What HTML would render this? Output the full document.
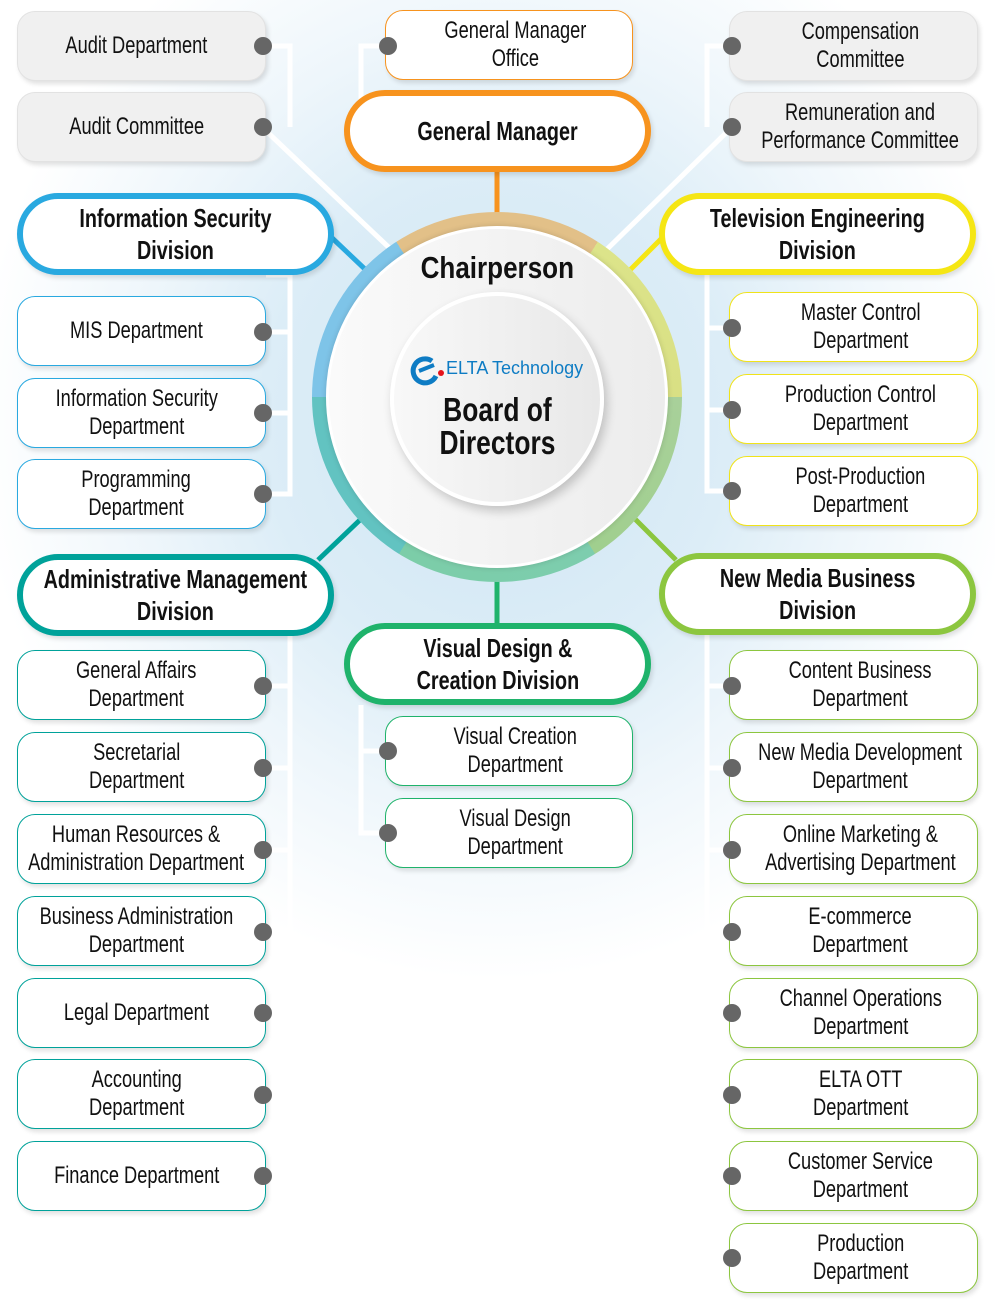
<!DOCTYPE html>
<html><head><meta charset="utf-8"><style>
*{margin:0;padding:0;box-sizing:border-box}
body{width:995px;height:1310px;position:relative;overflow:hidden;background:#fff;font-family:"Liberation Sans",sans-serif;}
#bg{position:absolute;left:0;top:0;width:995px;height:1310px;background:radial-gradient(ellipse 520px 560px at 497px 420px,#cfe5f3 0%,#dcedf7 45%,#eef6fb 70%,#ffffff 100%);}
.b{position:absolute;background:#fff;border-radius:18px;display:flex;align-items:center;justify-content:center;text-align:center;font-size:24px;line-height:28px;color:#111;box-shadow:2px 3px 5px rgba(0,0,0,.12);white-space:nowrap}
.b span{display:inline-block;transform:scaleX(.76)}
.g{background:#f0f0f0;border:1px solid #e2e2e2}
.L{left:17px;width:249px;height:70px;padding-right:10px}
.R{left:729px;width:249px;height:70px;padding-left:14px}
.C{left:385px;width:248px;height:70px;padding-left:12px}
.d{position:absolute;font-weight:bold;font-size:26px;line-height:32px;border-radius:42px;height:82px;background:#fff;border:6px solid;display:flex;align-items:center;justify-content:center;text-align:center;color:#111;box-shadow:2px 3px 5px rgba(0,0,0,.12);white-space:nowrap}
.d span{display:inline-block;transform:scaleX(.76)}
.dot{position:absolute;width:18px;height:18px;border-radius:50%;background:#666}
</style></head><body>
<div id="bg"></div>
<svg width="995" height="1310" style="position:absolute;left:0;top:0">
<g stroke="#fff" stroke-width="5" fill="none">
<polyline points="262,46 290,46 290,127"/>
<polyline points="266,275 290,275 290,494 262,494"/>
<line x1="262" y1="332" x2="290" y2="332"/><line x1="262" y1="413" x2="290" y2="413"/>
<polyline points="290,636 290,1176 262,1176"/>
<line x1="262" y1="686" x2="290" y2="686"/><line x1="262" y1="768" x2="290" y2="768"/><line x1="262" y1="850" x2="290" y2="850"/><line x1="262" y1="932" x2="290" y2="932"/><line x1="262" y1="1013" x2="290" y2="1013"/><line x1="262" y1="1095" x2="290" y2="1095"/>
<polyline points="388,46 361,46 361,100"/>
<polyline points="361,705 361,833 388,833"/><line x1="361" y1="751" x2="388" y2="751"/>
<polyline points="732,46 707,46 707,127"/>
<polyline points="707,275 707,491 732,491"/><line x1="707" y1="328" x2="732" y2="328"/><line x1="707" y1="410" x2="732" y2="410"/>
<polyline points="707,635 707,1258 732,1258"/>
<line x1="707" y1="686" x2="732" y2="686"/><line x1="707" y1="768" x2="732" y2="768"/><line x1="707" y1="850" x2="732" y2="850"/><line x1="707" y1="932" x2="732" y2="932"/><line x1="707" y1="1013" x2="732" y2="1013"/><line x1="707" y1="1095" x2="732" y2="1095"/><line x1="707" y1="1176" x2="732" y2="1176"/>
<line x1="262" y1="127" x2="400" y2="258"/><line x1="732" y1="127" x2="598" y2="258"/>
</g>
<g stroke-width="5">
<line x1="497" y1="170" x2="497" y2="215" stroke="#f7931e"/>
<line x1="330" y1="236" x2="368" y2="272" stroke="#29a9e0"/>
<line x1="664" y1="236" x2="628" y2="272" stroke="#f5e614"/>
<line x1="362" y1="518" x2="318" y2="560" stroke="#00a29a"/>
<line x1="634" y1="518" x2="676" y2="560" stroke="#8cc63f"/>
<line x1="497" y1="578" x2="497" y2="626" stroke="#1fb36b"/>
</g>
</svg>
<div style="position:absolute;left:312px;top:212px;width:370px;height:370px;border-radius:50%;background:conic-gradient(#e2c088 0deg,#e2c088 33deg,#dce48a 33deg,#d9e084 90deg,#a8d09a 90deg,#a0cf8e 148deg,#7dcdae 148deg,#7ccda8 212deg,#62c3c1 212deg,#62c3c1 270deg,#7ec4e8 270deg,#7ec4e8 327deg,#e2c088 327deg)"></div>
<div style="position:absolute;left:326px;top:226px;width:342px;height:342px;border-radius:50%;background:linear-gradient(90deg,#fafafa,#ececec);border:3px solid #fff;box-shadow:0 0 6px rgba(0,0,0,.15)"></div>
<div style="position:absolute;left:390px;top:292px;width:214px;height:214px;border-radius:50%;background:linear-gradient(90deg,#f8f8f8,#e8e8e8);border:4px solid #fff;box-shadow:3px 5px 10px rgba(0,0,0,.2)"></div>
<div style="position:absolute;left:347px;top:250px;width:300px;text-align:center;font-weight:bold;font-size:31px;color:#111"><span style="display:inline-block;transform:scaleX(.84)">Chairperson</span></div>
<div style="position:absolute;left:410px;top:354px;width:190px;height:32px">
<svg width="34" height="32" style="position:absolute;left:0;top:0"><path d="M22 7 A12 12 0 1 0 26 22" stroke="#0e7cc4" stroke-width="5" fill="none"/><path d="M9 17 L24 11" stroke="#0e7cc4" stroke-width="4"/><circle cx="31" cy="19" r="3" fill="#e5141b"/></svg>
<span style="position:absolute;left:36px;top:4px;font-size:18px;color:#0e7cc4;white-space:nowrap">ELTA Technology</span></div>
<div style="position:absolute;left:347px;top:393px;width:300px;text-align:center;font-weight:bold;font-size:33px;line-height:33px;color:#111"><span style="display:inline-block;transform:scaleX(.8)">Board of<br>Directors</span></div>

<div class="b g L" style="top:11px"><span>Audit Department</span></div>
<div class="b g L" style="top:92px"><span>Audit Committee</span></div>
<div class="d" style="left:17px;top:193px;width:317px;border-color:#29a9e0"><span>Information Security<br>Division</span></div>
<div class="b L" style="top:296px;border:1px solid #29a9e0"><span>MIS Department</span></div>
<div class="b L" style="top:378px;border:1px solid #29a9e0"><span>Information Security<br>Department</span></div>
<div class="b L" style="top:459px;border:1px solid #29a9e0"><span>Programming<br>Department</span></div>
<div class="d" style="left:17px;top:554px;width:317px;border-color:#00a29a"><span>Administrative Management<br>Division</span></div>
<div class="b L" style="top:650px;border:1px solid #00a29a"><span>General Affairs<br>Department</span></div>
<div class="b L" style="top:732px;border:1px solid #00a29a"><span>Secretarial<br>Department</span></div>
<div class="b L" style="top:814px;border:1px solid #00a29a"><span>Human Resources &amp;<br>Administration Department</span></div>
<div class="b L" style="top:896px;border:1px solid #00a29a"><span>Business Administration<br>Department</span></div>
<div class="b L" style="top:978px;border:1px solid #00a29a"><span>Legal Department</span></div>
<div class="b L" style="top:1059px;border:1px solid #00a29a"><span>Accounting<br>Department</span></div>
<div class="b L" style="top:1141px;border:1px solid #00a29a"><span>Finance Department</span></div>

<div class="b C" style="top:10px;border:1px solid #f7931e"><span>General Manager<br>Office</span></div>
<div class="d" style="left:344px;top:90px;width:307px;border-color:#f7931e"><span>General Manager</span></div>
<div class="d" style="left:344px;top:623px;width:307px;border-color:#1fb36b"><span>Visual Design &amp;<br>Creation Division</span></div>
<div class="b C" style="top:716px;border:1px solid #1fb36b"><span>Visual Creation<br>Department</span></div>
<div class="b C" style="top:798px;border:1px solid #1fb36b"><span>Visual Design<br>Department</span></div>

<div class="b g R" style="top:11px"><span>Compensation<br>Committee</span></div>
<div class="b g R" style="top:92px"><span>Remuneration and<br>Performance Committee</span></div>
<div class="d" style="left:659px;top:193px;width:317px;border-color:#f5e614"><span>Television Engineering<br>Division</span></div>
<div class="b R" style="top:292px;border:1px solid #f0e31a"><span>Master Control<br>Department</span></div>
<div class="b R" style="top:374px;border:1px solid #f0e31a"><span>Production Control<br>Department</span></div>
<div class="b R" style="top:456px;border:1px solid #f0e31a"><span>Post-Production<br>Department</span></div>
<div class="d" style="left:659px;top:553px;width:317px;border-color:#8cc63f"><span>New Media Business<br>Division</span></div>
<div class="b R" style="top:650px;border:1px solid #8cc63f"><span>Content Business<br>Department</span></div>
<div class="b R" style="top:732px;border:1px solid #8cc63f"><span>New Media Development<br>Department</span></div>
<div class="b R" style="top:814px;border:1px solid #8cc63f"><span>Online Marketing &amp;<br>Advertising Department</span></div>
<div class="b R" style="top:896px;border:1px solid #8cc63f"><span>E-commerce<br>Department</span></div>
<div class="b R" style="top:978px;border:1px solid #8cc63f"><span>Channel Operations<br>Department</span></div>
<div class="b R" style="top:1059px;border:1px solid #8cc63f"><span>ELTA OTT<br>Department</span></div>
<div class="b R" style="top:1141px;border:1px solid #8cc63f"><span>Customer Service<br>Department</span></div>
<div class="b R" style="top:1223px;border:1px solid #8cc63f"><span>Production<br>Department</span></div>

<div class="dot" style="left:254px;top:37px"></div><div class="dot" style="left:254px;top:118px"></div>
<div class="dot" style="left:254px;top:323px"></div><div class="dot" style="left:254px;top:404px"></div><div class="dot" style="left:254px;top:485px"></div>
<div class="dot" style="left:254px;top:677px"></div><div class="dot" style="left:254px;top:759px"></div><div class="dot" style="left:254px;top:841px"></div><div class="dot" style="left:254px;top:923px"></div><div class="dot" style="left:254px;top:1004px"></div><div class="dot" style="left:254px;top:1086px"></div><div class="dot" style="left:254px;top:1167px"></div>
<div class="dot" style="left:379px;top:37px"></div><div class="dot" style="left:379px;top:742px"></div><div class="dot" style="left:379px;top:824px"></div>
<div class="dot" style="left:723px;top:37px"></div><div class="dot" style="left:723px;top:118px"></div>
<div class="dot" style="left:723px;top:319px"></div><div class="dot" style="left:723px;top:401px"></div><div class="dot" style="left:723px;top:482px"></div>
<div class="dot" style="left:723px;top:677px"></div><div class="dot" style="left:723px;top:759px"></div><div class="dot" style="left:723px;top:841px"></div><div class="dot" style="left:723px;top:923px"></div><div class="dot" style="left:723px;top:1004px"></div><div class="dot" style="left:723px;top:1086px"></div><div class="dot" style="left:723px;top:1167px"></div><div class="dot" style="left:723px;top:1249px"></div>
</body></html>
